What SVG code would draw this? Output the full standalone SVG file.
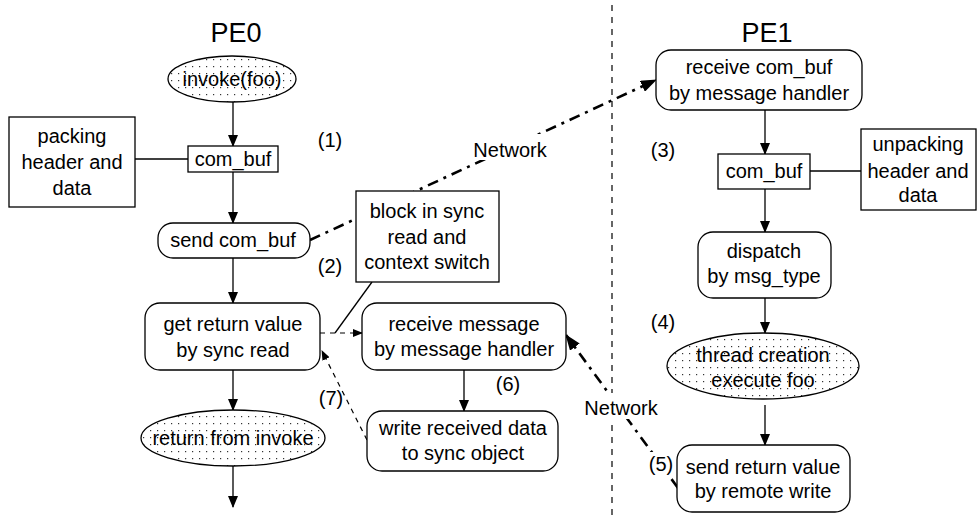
<svg xmlns="http://www.w3.org/2000/svg" width="978" height="521" viewBox="0 0 978 521">
<defs>
<pattern id="dots" width="7" height="7" patternUnits="userSpaceOnUse"><rect width="7" height="7" fill="#fff"/><rect x="3" y="3" width="1.2" height="1.2" fill="#333"/></pattern>
<marker id="ah" markerWidth="12" markerHeight="10" refX="11" refY="5" orient="auto" markerUnits="userSpaceOnUse"><path d="M0,0 L12,5 L0,10 Z" fill="#000"/></marker>
<marker id="ahs" markerWidth="10" markerHeight="8" refX="9" refY="4" orient="auto" markerUnits="userSpaceOnUse"><path d="M0,0 L10,4 L0,8 Z" fill="#000"/></marker>
<marker id="ahn" markerWidth="16" markerHeight="12" refX="15" refY="6" orient="auto" markerUnits="userSpaceOnUse"><path d="M0,0 L16,6 L0,12 Z" fill="#000"/></marker>
</defs>
<style>
text{font-family:"Liberation Sans",Arial,sans-serif;font-size:20px;fill:#000;text-anchor:middle}
.title{font-size:27px}
.box{fill:#fff;stroke:#000;stroke-width:1.3}
.ell{fill:url(#dots);stroke:#000;stroke-width:1.3}
.flow{stroke:#000;stroke-width:1.3;fill:none;marker-end:url(#ah)}
.plain{stroke:#000;stroke-width:1.3;fill:none}
.thin{stroke:#000;stroke-width:1.2;fill:none;stroke-dasharray:5 5;marker-end:url(#ahs)}
.net{stroke:#000;stroke-width:2.6;fill:none;stroke-dasharray:11 6 3 6;marker-end:url(#ahn)}
</style>
<rect width="978" height="521" fill="#fff"/>
<line x1="612" y1="5" x2="612" y2="521" stroke="#000" stroke-width="1.2" stroke-dasharray="6 6"/>
<text class="title" x="236" y="42">PE0</text>
<text class="title" x="767" y="42">PE1</text>
<g id="connectors">
<line class="flow" x1="233" y1="102" x2="233" y2="146"/>
<line class="plain" x1="135" y1="159" x2="188" y2="159"/>
<line class="flow" x1="233" y1="172" x2="233" y2="223"/>
<line class="flow" x1="233" y1="258" x2="233" y2="303"/>
<line class="flow" x1="233" y1="370" x2="233" y2="410"/>
<line class="flow" x1="233" y1="466" x2="233" y2="507"/>
<line class="plain" x1="372" y1="282" x2="335" y2="333"/>
<line class="thin" x1="320" y1="333" x2="362" y2="333"/>
<line class="flow" x1="464" y1="370" x2="464" y2="411"/>
<line class="thin" x1="367" y1="440" x2="322" y2="351"/>
<line class="net" x1="310" y1="240" x2="656" y2="80"/>
<line class="flow" x1="765" y1="110" x2="765" y2="154"/>
<line class="plain" x1="810" y1="171" x2="861" y2="171"/>
<line class="flow" x1="765" y1="189" x2="765" y2="232"/>
<line class="flow" x1="765" y1="298" x2="765" y2="333"/>
<line class="flow" x1="765" y1="405" x2="765" y2="445"/>
<line class="net" x1="678" y1="488" x2="566" y2="335"/>
<rect x="470" y="134" width="80" height="26" fill="#fff"/>
<text x="510" y="157">Network</text>
<rect x="583" y="393" width="76" height="26" fill="#fff"/>
<text x="621" y="415">Network</text>
<rect x="648" y="452" width="26" height="24" fill="#fff"/>
</g>
<g id="invoke"><ellipse class="ell" cx="232" cy="79" rx="64" ry="23"/><text x="232" y="86">invoke(foo)</text></g>
<g id="packing"><rect class="box" x="9" y="117" width="126" height="90"/><text x="72" y="143">packing</text><text x="72" y="169">header and</text><text x="72" y="195">data</text></g>
<g id="combuf0"><rect class="box" x="188" y="146" width="90" height="26"/><text x="233" y="166">com_buf</text></g>
<g id="send"><rect class="box" x="158" y="223" width="152" height="35" rx="15"/><text x="233" y="247">send com_buf</text></g>
<g id="block"><rect class="box" x="356" y="191" width="143" height="91"/><text x="427" y="218">block in sync</text><text x="427" y="244">read and</text><text x="427" y="269">context switch</text></g>
<g id="getret"><rect class="box" x="145" y="303" width="175" height="67" rx="15"/><text x="233" y="331">get return value</text><text x="233" y="357">by sync read</text></g>
<g id="recvmsg"><rect class="box" x="362" y="303" width="204" height="67" rx="15"/><text x="464" y="331">receive message</text><text x="464" y="356">by message handler</text></g>
<g id="writerecv"><rect class="box" x="367" y="411" width="191" height="60" rx="15"/><text x="463" y="435">write received data</text><text x="463" y="460">to sync object</text></g>
<g id="retinvoke"><ellipse class="ell" cx="233" cy="438" rx="92" ry="28"/><text x="233" y="445">return from invoke</text></g>
<g id="recvbuf"><rect class="box" x="656" y="50" width="206" height="60" rx="15"/><text x="759" y="74">receive com_buf</text><text x="759" y="100">by message handler</text></g>
<g id="combuf1"><rect class="box" x="718" y="154" width="92" height="35"/><text x="764" y="178">com_buf</text></g>
<g id="unpacking"><rect class="box" x="861" y="129" width="115" height="81"/><text x="918" y="151">unpacking</text><text x="918" y="178">header and</text><text x="918" y="202">data</text></g>
<g id="dispatch"><rect class="box" x="698" y="232" width="133" height="66" rx="15"/><text x="764" y="258">dispatch</text><text x="764" y="283">by msg_type</text></g>
<g id="thread"><ellipse class="ell" cx="763" cy="366" rx="96" ry="33"/><text x="763" y="362">thread creation</text><text x="763" y="387">execute foo</text></g>
<g id="sendret"><rect class="box" x="677" y="445" width="173" height="67" rx="15"/><text x="763" y="474">send return value</text><text x="763" y="498">by remote write</text></g>
<g id="labels">
<text x="330" y="147">(1)</text>
<text x="330" y="273">(2)</text>
<text x="663" y="157">(3)</text>
<text x="663" y="329">(4)</text>
<text x="661" y="471">(5)</text>
<text x="508" y="391">(6)</text>
<text x="331" y="405">(7)</text>
</g>
</svg>
